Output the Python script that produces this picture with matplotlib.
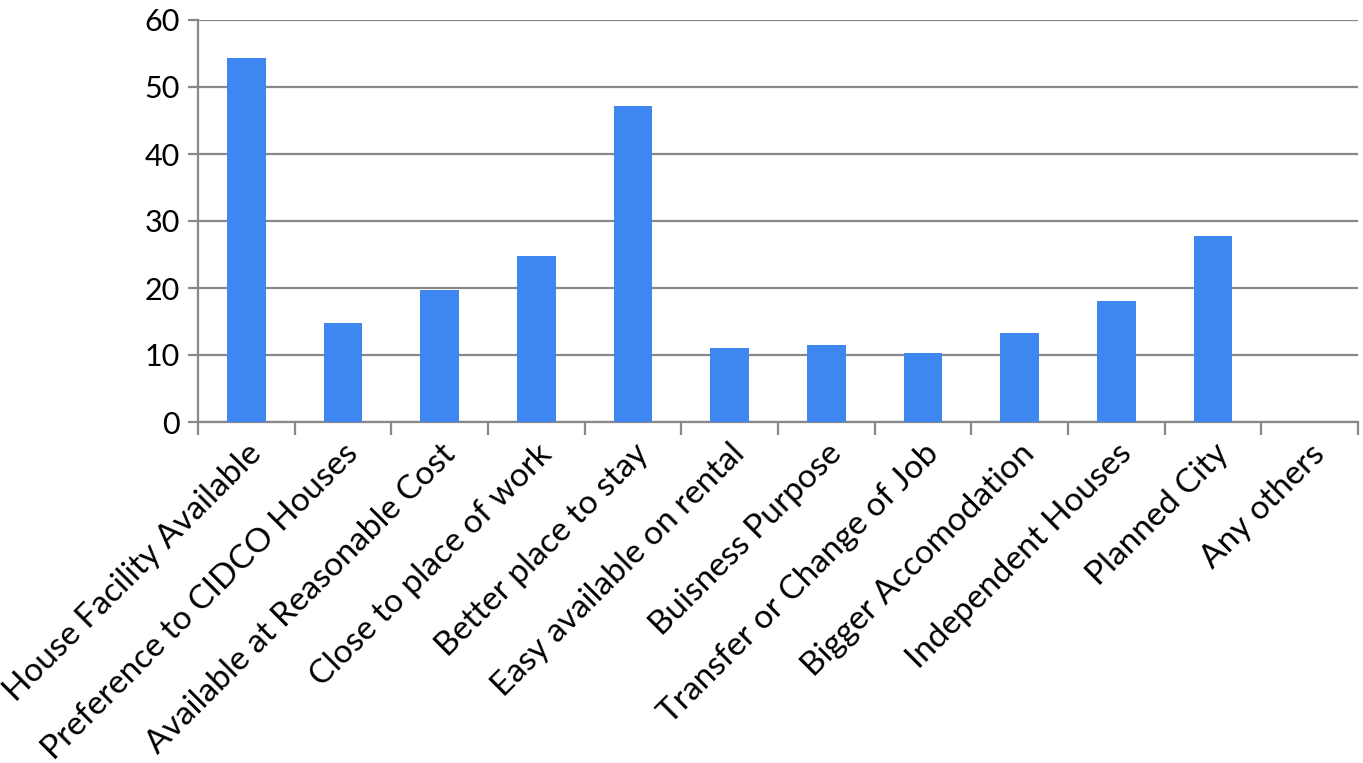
import numpy as np
import matplotlib
matplotlib.use('Agg')
import matplotlib.pyplot as plt

# data
categories = ['House Facility Available', 'Preference to CIDCO Houses',
              'Available at Reasonable Cost', 'Close to place of work',
              'Better place to stay', 'Easy available on rental',
              'Buisness Purpose', 'Transfer or Change of Job',
              'Bigger Accomodation', 'Independent Houses',
              'Planned City', 'Any others']
values = [54.3, 14.8, 19.7, 24.8, 47.1, 11.1, 11.5, 10.3, 13.3, 18.1, 27.8, 0]
yticks = [0, 10, 20, 30, 40, 50, 60]

plt.rcParams['font.family'] = ['Lato', 'DejaVu Sans']

fig = plt.figure(figsize=(13.63, 7.63), dpi=100)
ax = fig.add_axes([198/1363, 1-422/763, (1358-198)/1363, (422-20)/763])

x = np.arange(len(categories))
ax.bar(x, values, width=0.4, color='#3E87F0', zorder=3)

ax.set_xlim(-0.5, len(categories)-0.5)
ax.set_ylim(0, 60)
ax.set_yticks(yticks)
ax.set_yticklabels([str(v) for v in yticks], fontsize=22)
ax.yaxis.grid(True, color='#888888', linewidth=1.6, zorder=0)

# category labels between the boundary ticks
ax.set_xticks(x)
ax.set_xticklabels(categories, rotation=45, ha='right', va='top',
                   rotation_mode='anchor', fontsize=24)
ax.tick_params(axis='x', length=0, pad=12)
ax.set_xticks(np.arange(len(categories)+1)-0.5, minor=True)
ax.tick_params(axis='x', which='minor', length=9, width=1.6, color='#888888',
               direction='out')
ax.tick_params(axis='y', length=7, width=1.6, color='#888888', pad=6)

for s in ['top', 'right']:
    ax.spines[s].set_visible(False)
for s in ['left', 'bottom']:
    ax.spines[s].set_color('#888888')
    ax.spines[s].set_linewidth(1.6)

fig.savefig('out.png', dpi=100)
